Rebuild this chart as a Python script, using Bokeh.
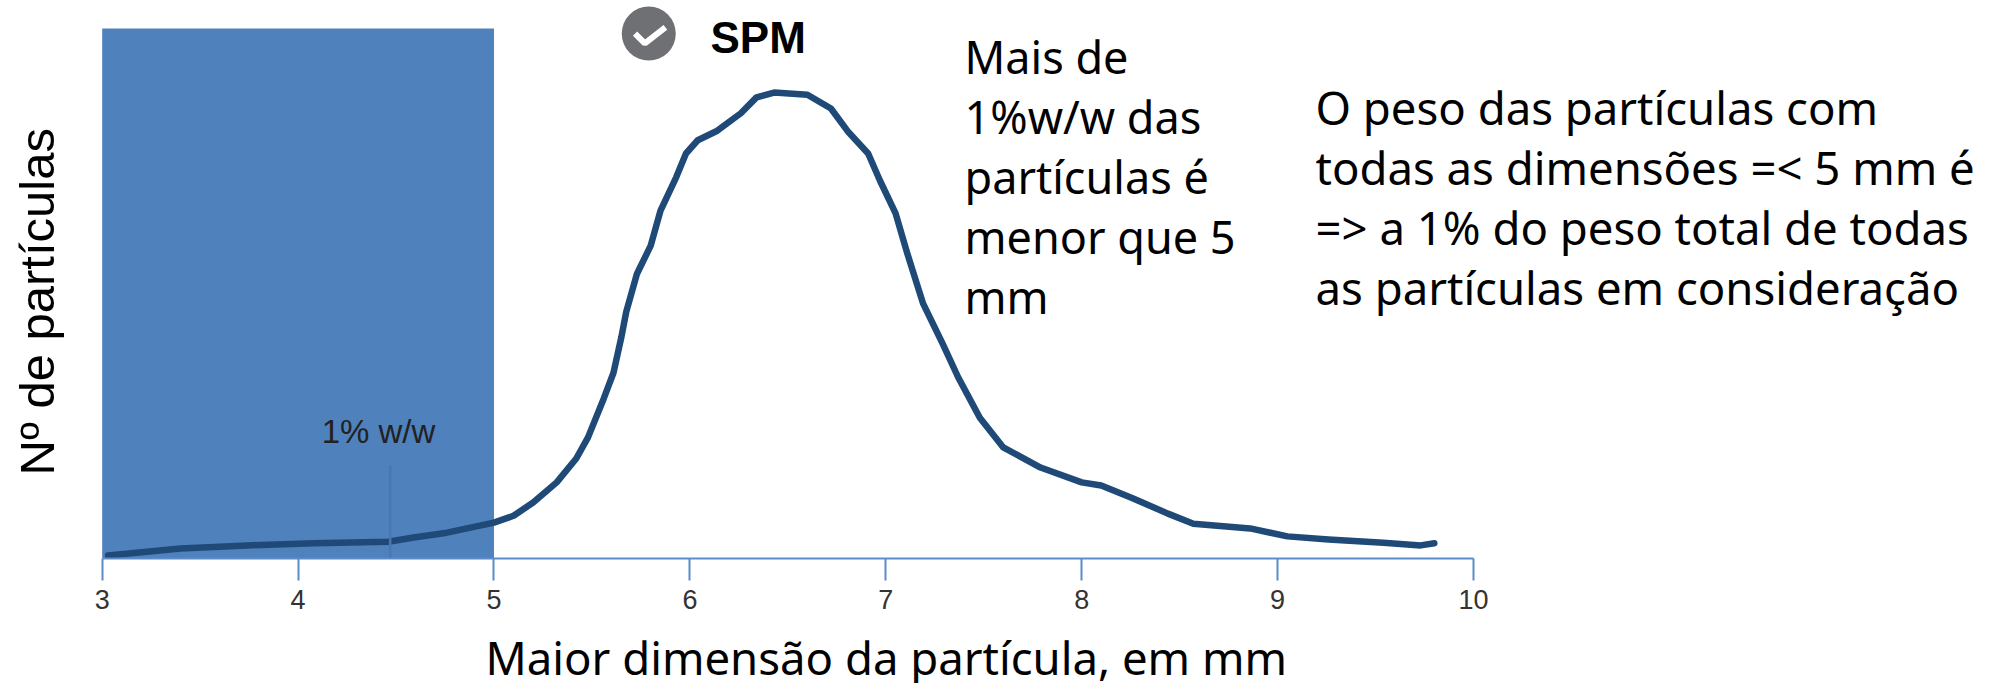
import math
from bokeh.plotting import figure
from bokeh.models import Label, Range1d, FixedTicker
from bokeh.embed import file_html
from bokeh.resources import INLINE

# Maior dimensao da particula (mm) / No de particulas (relative units)
size_mm = [3.03,3.40,3.74,4.08,4.46,4.59,4.76,5.00,5.10,5.20,5.32,5.42,5.48,5.56,5.61,5.65,5.675,5.73,5.80,5.85,5.93,5.98,6.04,6.14,6.26,6.34,6.43,6.60,6.72,6.81,6.91,6.97,7.05,7.11,7.19,7.29,7.37,7.48,7.60,7.79,8.00,8.10,8.26,8.44,8.57,8.86,9.05,9.26,9.54,9.73,9.80]
count = [0.5,1.8,2.4,2.8,3.1,3.9,4.8,6.7,8.0,10.5,14.3,18.8,22.8,30.1,35.0,41.7,46.5,53.7,59.0,65.6,71.9,76.4,78.9,80.7,84.0,87.0,87.9,87.5,84.9,80.4,76.4,71.3,65.1,57.5,48.1,40.5,34.1,26.5,20.9,17.1,14.3,13.7,11.3,8.4,6.5,5.6,4.1,3.5,2.9,2.4,2.8]
ticks = [3,4,5,6,7,8,9,10]
band_left, band_right, band_top = 3, 5, 100
marker_x, marker_top = 4.47, 17.5
x_title = "Maior dimensão da partícula, em mm"
y_title = "Nº de partículas"
note_left = ["Mais de", "1%w/w das", "partículas é", "menor que 5", "mm"]
note_right = ["O peso das partículas com", "todas as dimensões =< 5 mm é", "=> a 1% do peso total de todas", "as partículas em consideração"]
legend_name = "SPM"
marker_name = "1% w/w"

W, H = 2000, 683
p = figure(width=W, height=H, output_backend="svg", toolbar_location=None,
           x_range=Range1d(2.4809, 12.6902), y_range=Range1d(-23.68, 105.29),
           min_border_left=0, min_border_right=0, min_border_top=0, min_border_bottom=0)
p.outline_line_color = None
p.grid.visible = False
p.yaxis.visible = False
p.background_fill_color = "white"

BLUE = "#4f81bd"
p.quad(left=[band_left], right=[band_right], bottom=[0], top=[band_top], fill_color=BLUE, line_color=None)
p.line(size_mm, count, line_color="#1f4a78", line_width=6.5, line_join="round", line_cap="round")
p.line([marker_x, marker_x], [0, marker_top], line_color="#4877b3", line_width=2.5)
p.scatter([5.79], [99.05], size=54, marker="circle", fill_color="#6f7073", line_color=None)
p.line([5.72, 5.77, 5.875], [99.05, 97.2, 100.2], line_color="white", line_width=6)

ax = p.xaxis[0]
ax.fixed_location = 0
ax.bounds = (3, 10)
ax.ticker = FixedTicker(ticks=ticks)
ax.axis_line_color = "#5b8bc9"
ax.axis_line_width = 2
ax.major_tick_line_color = "#5b8bc9"
ax.major_tick_line_width = 2
ax.major_tick_in = 0
ax.major_tick_out = 22
ax.minor_tick_line_color = None
ax.major_label_text_font = "Liberation Sans"
ax.major_label_text_font_size = "27px"
ax.major_label_text_color = "#333333"
ax.major_label_standoff = 10


def label(text, px, py, size, font="Noto Sans", color="black", style="normal", angle=0.0, align="left"):
    p.add_layout(Label(x=px, y=H - py, x_units="screen", y_units="screen", text=text,
                       text_font=font, text_font_size=f"{size}px", text_color=color,
                       text_font_style=style, angle=angle, text_align=align,
                       text_baseline="alphabetic"))


label(x_title, 485, 656, 45.5)
label(y_title, 36, 475, 49, font="Liberation Sans", angle=math.pi / 2)
label(legend_name, 710, 37, 44, font="Liberation Sans", style="bold")
label(marker_name, 378, 431, 33, font="Liberation Sans", color="#222222", align="center")
for line, py in zip(note_left, [56, 116, 176, 236, 296]):
    label(line, 964, py, 45)
for line, py in zip(note_right, [106, 166, 226, 286]):
    label(line, 1315, py, 45.5)

open("out.html", "w").write(file_html(p, INLINE))
